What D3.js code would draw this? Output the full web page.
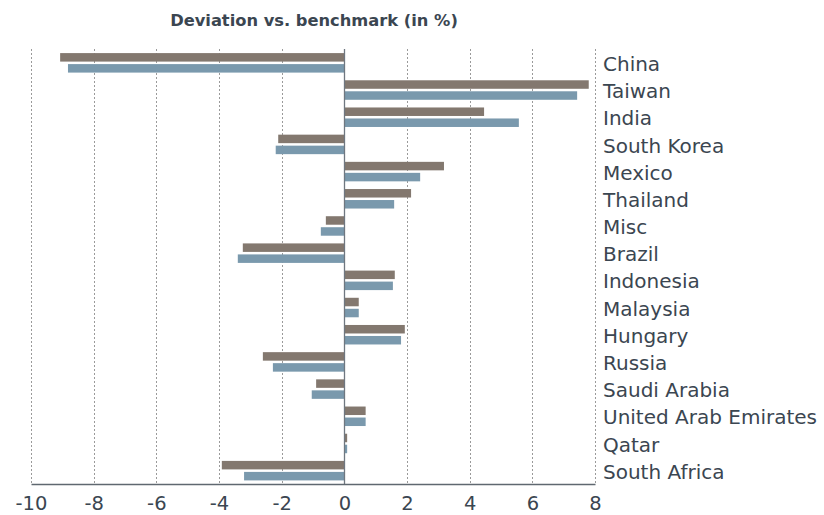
<!DOCTYPE html>
<html>
<head>
<meta charset="utf-8">
<script src="https://cdn.jsdelivr.net/npm/d3@7"></script>
<style>
  body { margin: 0; background: #fff; }
  svg text { font-family: "DejaVu Sans", Verdana, sans-serif; fill: #3b4651; }
</style>
</head>
<body>
<svg id="mysvg" width="824" height="515"></svg>
<script>
// data
let countries = ["China", "Taiwan", "India", "South Korea", "Mexico", "Thailand", "Misc", "Brazil",
    "Indonesia", "Malaysia", "Hungary", "Russia", "Saudi Arabia", "United Arab Emirates", "Qatar", "South Africa"];
let seriesA = [-9.07, 7.80, 4.46, -2.11, 3.18, 2.13, -0.59, -3.24, 1.61, 0.46, 1.93, -2.60, -0.90, 0.68, 0.09, -3.91];
let seriesB = [-8.82, 7.43, 5.57, -2.19, 2.42, 1.59, -0.75, -3.40, 1.55, 0.46, 1.81, -2.28, -1.04, 0.68, 0.09, -3.20];
let xTicks = [-10, -8, -6, -4, -2, 0, 2, 4, 6, 8];
let title = "Deviation vs. benchmark (in %)";

let colA = "#83786f";
let colB = "#7a99ad";

let svg = d3.select("#mysvg");

let plotLeft = 31, plotRight = 595, plotTop = 49, plotBottom = 484;

let x = d3.scaleLinear().domain([-10, 8]).range([plotLeft, plotRight]);
let y = d3.scaleBand().domain(countries).range([plotTop, plotBottom]);

// title
svg.append("text")
    .attr("x", 314)
    .attr("y", 26)
    .attr("text-anchor", "middle")
    .attr("font-size", 16.3)
    .attr("font-weight", "bold")
    .text(title);

// dotted grid lines
svg.append("g")
    .selectAll("line")
    .data(xTicks.filter(d => d != 0))
    .enter()
    .append("line")
    .attr("x1", d => Math.round(x(d)) + 0.5)
    .attr("x2", d => Math.round(x(d)) + 0.5)
    .attr("y1", plotTop)
    .attr("y2", plotBottom)
    .attr("stroke", "#9a9a9a")
    .attr("stroke-width", 1)
    .attr("stroke-dasharray", "2,2");

// bars
let rows = svg.selectAll("g.row")
    .data(countries)
    .enter()
    .append("g")
    .attr("class", "row")
    .attr("transform", d => "translate(0," + y(d) + ")");

let bh = 8.5;
let mid = y.bandwidth() / 2;

rows.append("rect")
    .attr("x", (d, i) => x(Math.min(0, seriesA[i])))
    .attr("width", (d, i) => Math.abs(x(seriesA[i]) - x(0)))
    .attr("y", mid - bh - 1)
    .attr("height", bh)
    .attr("fill", colA);

rows.append("rect")
    .attr("x", (d, i) => x(Math.min(0, seriesB[i])))
    .attr("width", (d, i) => Math.abs(x(seriesB[i]) - x(0)))
    .attr("y", mid + 1.5)
    .attr("height", bh)
    .attr("fill", colB);

// category labels on the right
rows.append("text")
    .attr("x", 603)
    .attr("y", mid)
    .attr("dy", "0.42em")
    .attr("font-size", 20)
    .text(d => d);

// zero line
svg.append("line")
    .attr("x1", Math.round(x(0)) + 0.5)
    .attr("x2", Math.round(x(0)) + 0.5)
    .attr("y1", plotTop)
    .attr("y2", plotBottom)
    .attr("stroke", "#6f7780")
    .attr("stroke-width", 1.3);

// bottom axis
let axis = svg.append("g")
    .attr("transform", "translate(0," + plotBottom + ")")
    .call(d3.axisBottom(x).tickValues(xTicks).tickSize(0).tickPadding(12).tickFormat(d => String(d)));
axis.select(".domain").attr("stroke", "#5f6870").attr("stroke-width", 1.3);
axis.selectAll("text")
    .attr("font-size", 19.5)
    .style("font-family", "'DejaVu Sans', Verdana, sans-serif")
    .attr("fill", "#3b4651")
    .attr("dy", "0.71em");
</script>
</body>
</html>
